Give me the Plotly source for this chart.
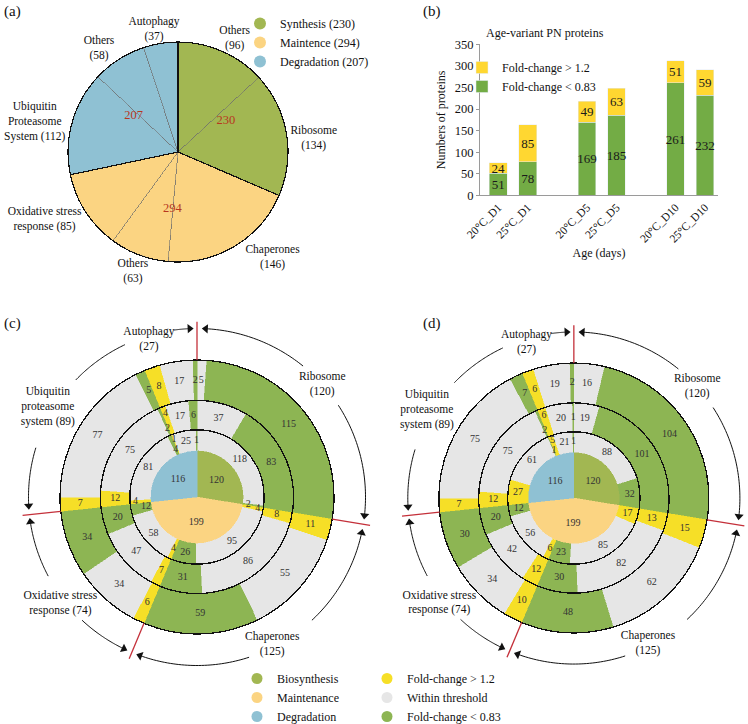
import numpy as np
import plotly.graph_objects as go

FONT = "Liberation Serif, Times New Roman, serif"
W, H = 748, 724

# ---------------- (a) pie data ----------------
a_values = [96, 134, 146, 63, 85, 112, 58, 37]
a_label_fmt = ["Others<br>({})", "Ribosome<br>({})", "Chaperones<br>({})", "Others<br>({})",
               "Oxidative stress<br>response ({})", "Ubiquitin<br>Proteasome<br>System ({})",
               "Others<br>({})", "Autophagy<br>({})"]
a_group_idx = [0, 0, 1, 1, 1, 2, 2, 2]
a_groups = ["Synthesis", "Maintence", "Degradation"]

# ---------------- (b) bar data ----------------
b_cats = ["20°C_D1", "25°C_D1", "20°C_D5", "25°C_D5", "20°C_D10", "25°C_D10"]
b_down = [51, 78, 169, 185, 261, 232]
b_up = [24, 85, 49, 63, 51, 59]
b_slots = [b_cats[0], b_cats[1], "gap1", b_cats[2], b_cats[3], "gap2", b_cats[4], b_cats[5]]

# ---------------- (c)/(d) ring data ----------------
ring_cats = ["Ribosome", "Chaperones", "Oxidative stress<br>response", "Ubiquitin<br>proteasome<br>system", "Autophagy"]
center_names = ["Biosynthesis", "Maintenance", "Degradation"]
center_values = [120, 199, 116]

c_inner_up = [0, 4, 4, 4, 1]
c_inner_mid = [118, 95, 58, 81, 25]
c_inner_down = [2, 26, 12, 4, 1]
c_mid_up = [0, 8, 7, 12, 4]
c_mid_mid = [37, 86, 47, 75, 17]
c_mid_down = [83, 31, 20, 2, 6]
c_out_up = [0, 11, 6, 7, 8]
c_out_mid = [5, 55, 34, 77, 17]
c_out_down = [115, 59, 34, 5, 2]

d_inner_up = [0, 17, 6, 27, 5]
d_inner_mid = [88, 85, 56, 61, 21]
d_inner_down = [32, 23, 12, 1, 1]
d_mid_up = [0, 13, 12, 12, 6]
d_mid_mid = [19, 82, 42, 75, 20]
d_mid_down = [101, 30, 20, 2, 1]
d_out_up = [0, 15, 10, 7, 6]
d_out_mid = [16, 62, 34, 75, 19]
d_out_down = [104, 48, 30, 7, 2]

# ---------------- colours ----------------
C_SYN = "#A2B752"
C_MAIN = "#FBD482"
C_DEG = "#8FC1D3"
C_UP = "#F6DF27"
C_MID = "#E6E6E6"
C_DOWN = "#8DB553"
B_GREEN = "#73AC45"
B_YELLOW = "#FFD731"
RED = "#C4303A"


def px(x):
    return x / W


def py(y):
    return 1 - y / H


fig = go.Figure()

# ================= (a) pie drawn on a polar subplot =================
A_LABEL_R = [1.15, 1.24, 1.29, 1.16, 1.36, 1.33, 1.18, 1.13]
A_LABEL_DT = [3, 4, -11, 0, 6, -4, -5, -2]
av = np.array(a_values, float)
KA = 360.0 / av.sum()
a_st = np.cumsum(av) - av
a_mid = (a_st + av / 2) * KA
a_colors = [[C_SYN, C_MAIN, C_DEG][g] for g in a_group_idx]
fig.add_trace(go.Barpolar(subplot="polar3", theta=a_mid.tolist(), width=(av * KA).tolist(),
                          base=[0] * len(av), r=[1.0] * len(av),
                          marker=dict(color=a_colors, line=dict(color="rgba(110,110,110,0.85)", width=0.7)),
                          showlegend=False, hoverinfo="skip"))
a_sums = np.array([sum(v for v, g in zip(a_values, a_group_idx) if g == k) for k in range(3)], float)
g_st = np.cumsum(a_sums) - a_sums
g_mid = (g_st + a_sums / 2) * KA
fig.add_trace(go.Barpolar(subplot="polar3", theta=g_mid.tolist(), width=(a_sums * KA).tolist(),
                          base=[0] * 3, r=[1.0] * 3,
                          marker=dict(color="rgba(0,0,0,0)", line=dict(color="#111", width=1.2)),
                          showlegend=False, hoverinfo="skip"))
fig.add_trace(go.Scatterpolar(subplot="polar3", r=[0.52] * 3, theta=g_mid.tolist(),
                              text=[str(int(s)) for s in a_sums], mode="text",
                              textfont=dict(family=FONT, size=12.5, color="#B8371F"),
                              showlegend=False, hoverinfo="skip", cliponaxis=False))
fig.add_trace(go.Scatterpolar(subplot="polar3", r=A_LABEL_R, theta=(a_mid + np.array(A_LABEL_DT)).tolist(),
                              text=[f.format(v) for f, v in zip(a_label_fmt, a_values)], mode="text",
                              textfont=dict(family=FONT, size=11.5, color="#111"),
                              showlegend=False, hoverinfo="skip", cliponaxis=False))
for name, col, s in zip(a_groups, [C_SYN, C_MAIN, C_DEG], a_sums):
    fig.add_trace(go.Scatter(x=[None], y=[None], mode="markers", name=f"{name} ({int(s)})",
                             marker=dict(symbol="circle", size=12, color=col),
                             legend="legend", hoverinfo="skip"))

# ================= (b) =================
fig.add_trace(go.Bar(x=b_cats, y=b_down, name="Fold-change < 0.83", marker_color=B_GREEN,
                     text=[str(v) for v in b_down], textposition="inside", insidetextanchor="middle",
                     textangle=0, constraintext="none",
                     textfont=dict(family=FONT, size=13, color="#1a1a1a"),
                     legend="legend2", legendrank=2, hoverinfo="skip"))
fig.add_trace(go.Bar(x=b_cats, y=b_up, name="Fold-change > 1.2", marker_color=B_YELLOW,
                     text=[str(v) for v in b_up], textposition="inside", insidetextanchor="middle",
                     textangle=0, constraintext="none",
                     textfont=dict(family=FONT, size=13, color="#1a1a1a"),
                     legend="legend2", legendrank=1, hoverinfo="skip"))

# ================= (c) / (d) =================
RING_EDGES = [0.0, 0.34, 0.49, 0.705, 1.0]
cat_totals = [a + b + c for a, b, c in zip(c_inner_up, c_inner_mid, c_inner_down)]
TOTAL = sum(cat_totals)
K = 360.0 / TOTAL
bnd = [0.0] + list(np.cumsum(cat_totals) * K)
RED_AT = [0, 1, 2, 3]  # category boundaries marked by a red line

LABEL_POS = [(1.23, 48), (1.21, 153), (1.265, 232), (1.27, 301), (1.20, 343)]
ARC_R = 1.23
ARC_PIECES = [
    (bnd[0] + 3, 39, True, False), (57, bnd[1] - 3, False, True),
    (bnd[1] + 3, 137, True, False), (162, bnd[2] - 3, False, True),
    (bnd[2] + 3, 223, True, False), (242, bnd[3] - 2.5, False, True),
    (bnd[3] + 3, 287, True, False), (314, bnd[4] - 3, False, False),
    (352, bnd[5] - 2.5, False, True),
]


def ring_panel(sub, rings):
    cv = np.array(center_values, float)
    st = np.cumsum(cv) - cv
    fig.add_trace(go.Barpolar(subplot=sub, theta=((st + cv / 2) * K).tolist(), width=(cv * K).tolist(),
                              base=[0] * 3, r=[RING_EDGES[1]] * 3,
                              marker=dict(color=[C_SYN, C_MAIN, C_DEG],
                                          line=dict(color=[C_SYN, C_MAIN, C_DEG], width=0.5)),
                              showlegend=False, hoverinfo="skip"))
    txt_r, txt_t, txt_s = [], [], []
    for v, s in zip(cv, st):
        txt_r.append(RING_EDGES[1] * 0.55)
        txt_t.append((s + v / 2) * K)
        txt_s.append(str(int(v)))
    for i, (up, mid, down) in enumerate(rings):
        vals, cols = [], []
        for c in range(len(up)):
            for v, col in ((up[c], C_UP), (mid[c], C_MID), (down[c], C_DOWN)):
                vals.append(v)
                cols.append(col)
        vals = np.array(vals, float)
        st = np.cumsum(vals) - vals
        keep = vals > 0
        r0, r1 = RING_EDGES[i + 1], RING_EDGES[i + 2]
        n = int(keep.sum())
        kc = [c for c, k in zip(cols, keep) if k]
        fig.add_trace(go.Barpolar(subplot=sub, theta=((st + vals / 2) * K)[keep].tolist(),
                                  width=(vals * K)[keep].tolist(), base=[r0] * n, r=[r1 - r0] * n,
                                  marker=dict(color=kc, line=dict(color=kc, width=0.5)),
                                  showlegend=False, hoverinfo="skip"))
        # labels, nudging crowded neighbouring slices apart radially
        rm = (r0 + r1) / 2
        dr = (r1 - r0) * 0.24
        lab_r, lab_t, lab_v = [], [], []
        for v, s in zip(vals[keep], st[keep]):
            t = (s + v / 2) * K
            r = rm
            if lab_v:
                sep = rm * np.deg2rad(abs(t - lab_t[-1]))
                if min(v, lab_v[-1]) <= 6 and max(v, lab_v[-1]) <= 15 and sep < 0.075:
                    lab_r[-1] = rm - dr
                    r = rm + dr
            lab_r.append(r)
            lab_t.append(t)
            lab_v.append(v)
        txt_r += lab_r
        txt_t += lab_t
        txt_s += [str(int(v)) for v in lab_v]
    # ring boundary circles
    fig.add_trace(go.Barpolar(subplot=sub, theta=[0, 0, 0], width=[360, 360, 360], base=[0, 0, 0],
                              r=RING_EDGES[2:],
                              marker=dict(color="rgba(0,0,0,0)", line=dict(color="#111", width=1.3)),
                              showlegend=False, hoverinfo="skip"))
    fig.add_trace(go.Scatterpolar(subplot=sub, r=txt_r, theta=txt_t, text=txt_s, mode="text",
                                  textfont=dict(family=FONT, size=10, color="#333"),
                                  showlegend=False, hoverinfo="skip", cliponaxis=False))
    # red category separators
    rr, tt = [], []
    for j in RED_AT:
        rr += [1.0, 1.28, None]
        tt += [bnd[j], bnd[j], None]
    fig.add_trace(go.Scatterpolar(subplot=sub, r=rr, theta=tt, mode="lines",
                                  line=dict(color=RED, width=1.3), showlegend=False, hoverinfo="skip"))
    # curved arrows
    ar, at, mr, mt, ma = [], [], [], [], []
    for t0, t1, s_arrow, e_arrow in ARC_PIECES:
        th = np.linspace(t0, t1, 40)
        ar += [ARC_R] * len(th) + [None]
        at += th.tolist() + [None]
        if s_arrow:
            mr.append(ARC_R); mt.append(t0); ma.append(t0 - 90)
        if e_arrow:
            mr.append(ARC_R); mt.append(t1); ma.append(t1 + 90)
    fig.add_trace(go.Scatterpolar(subplot=sub, r=ar, theta=at, mode="lines",
                                  line=dict(color="#111", width=1.0), showlegend=False, hoverinfo="skip"))
    fig.add_trace(go.Scatterpolar(subplot=sub, r=mr, theta=mt, mode="markers",
                                  marker=dict(symbol="triangle-up", size=8, color="#111", angle=ma),
                                  showlegend=False, hoverinfo="skip", cliponaxis=False))
    # category labels
    fig.add_trace(go.Scatterpolar(subplot=sub, r=[p[0] for p in LABEL_POS], theta=[p[1] for p in LABEL_POS],
                                  text=[f"{n}<br>({t})" if "<br>" not in n else f"{n} ({t})"
                                        for n, t in zip(ring_cats, cat_totals)],
                                  mode="text", textfont=dict(family=FONT, size=11.5, color="#111"),
                                  showlegend=False, hoverinfo="skip", cliponaxis=False))


ring_panel("polar", [(c_inner_up, c_inner_mid, c_inner_down), (c_mid_up, c_mid_mid, c_mid_down),
                     (c_out_up, c_out_mid, c_out_down)])
ring_panel("polar2", [(d_inner_up, d_inner_mid, d_inner_down), (d_mid_up, d_mid_mid, d_mid_down),
                      (d_out_up, d_out_mid, d_out_down)])

for name, col in zip(center_names, [C_SYN, C_MAIN, C_DEG]):
    fig.add_trace(go.Scatter(x=[None], y=[None], mode="markers", name=name,
                             marker=dict(symbol="circle", size=11, color=col),
                             legend="legend3", hoverinfo="skip"))
for name, col in zip(["Fold-change > 1.2", "Within threshold", "Fold-change < 0.83"], [C_UP, C_MID, C_DOWN]):
    fig.add_trace(go.Scatter(x=[None], y=[None], mode="markers", name=name,
                             marker=dict(symbol="circle", size=11, color=col),
                             legend="legend4", hoverinfo="skip"))

# polar geometry
a_cx, a_cy, a_R, a_max = 178, 152, 110, 1.38
a_rad = a_R * a_max
c_cx, c_cy, c_R, c_max = 197, 497, 137, 1.40
c_rad = c_R * c_max
d_cy, d_R, d_max = 498, 135, 1.29
d_rad = d_R * d_max
polar_common = dict(
    bgcolor="rgba(0,0,0,0)", barmode="overlay",
    angularaxis=dict(rotation=90, direction="clockwise", showline=False, showgrid=False,
                     showticklabels=False, ticks=""),
)
leg_common = dict(xanchor="left", yanchor="top", bgcolor="rgba(0,0,0,0)", font=dict(size=12),
                  traceorder="normal")

fig.update_layout(
    width=W, height=H, margin=dict(l=0, r=0, t=0, b=0, autoexpand=False),
    paper_bgcolor="white", plot_bgcolor="white",
    font=dict(family=FONT, size=12, color="#111"),
    barmode="stack", bargap=0.4,
    xaxis=dict(domain=[px(480), px(718)], type="category", categoryorder="array", categoryarray=b_slots,
               tickvals=b_cats, tickangle=-45, range=[-0.62, 7.44], showline=True, linecolor="#9a9a9a",
               ticks="", showgrid=False, zeroline=False, tickfont=dict(size=11.5),
               title=dict(text="Age (days)", font=dict(size=12), standoff=4)),
    yaxis=dict(domain=[py(195.3), py(44.3)], range=[0, 350], dtick=50, showline=True, linecolor="#9a9a9a",
               ticks="outside", ticklen=3, tickcolor="#9a9a9a", showgrid=False, zeroline=False,
               tickfont=dict(size=12.5),
               title=dict(text="Numbers of proteins", font=dict(size=12), standoff=6)),
    polar=dict(domain=dict(x=[px(c_cx - c_rad), px(c_cx + c_rad)], y=[py(c_cy + c_rad), py(c_cy - c_rad)]),
               radialaxis=dict(range=[0, c_max], visible=False), **polar_common),
    polar2=dict(domain=dict(x=[px(W - 2 * d_rad), 1.0], y=[py(d_cy + d_rad), py(d_cy - d_rad)]),
                radialaxis=dict(range=[0, d_max], visible=False), **polar_common),
    polar3=dict(domain=dict(x=[px(a_cx - a_rad), px(a_cx + a_rad)], y=[py(a_cy + a_rad), py(a_cy - a_rad)]),
                radialaxis=dict(range=[0, a_max], visible=False), **polar_common),
    legend=dict(x=px(240), y=py(9), **leg_common),
    legend2=dict(x=px(462), y=py(53), **leg_common),
    legend3=dict(x=px(237), y=py(664), **leg_common),
    legend4=dict(x=px(367), y=py(664), **leg_common),
    annotations=[
        dict(text="(a)", x=px(2), y=py(1), xref="paper", yref="paper", xanchor="left", yanchor="top",
             showarrow=False, font=dict(size=15)),
        dict(text="(b)", x=px(421), y=py(1), xref="paper", yref="paper", xanchor="left", yanchor="top",
             showarrow=False, font=dict(size=15)),
        dict(text="(c)", x=px(2), y=py(313), xref="paper", yref="paper", xanchor="left", yanchor="top",
             showarrow=False, font=dict(size=15)),
        dict(text="(d)", x=px(421), y=py(313), xref="paper", yref="paper", xanchor="left", yanchor="top",
             showarrow=False, font=dict(size=15)),
        dict(text="Age-variant PN proteins", x=px(606), y=py(24), xref="paper", yref="paper",
             showarrow=False, font=dict(size=12)),
    ],
)

fig.write_html("out.html", config={"displayModeBar": False},
               post_script="document.body.style.margin='0';document.body.style.overflow='hidden';")
